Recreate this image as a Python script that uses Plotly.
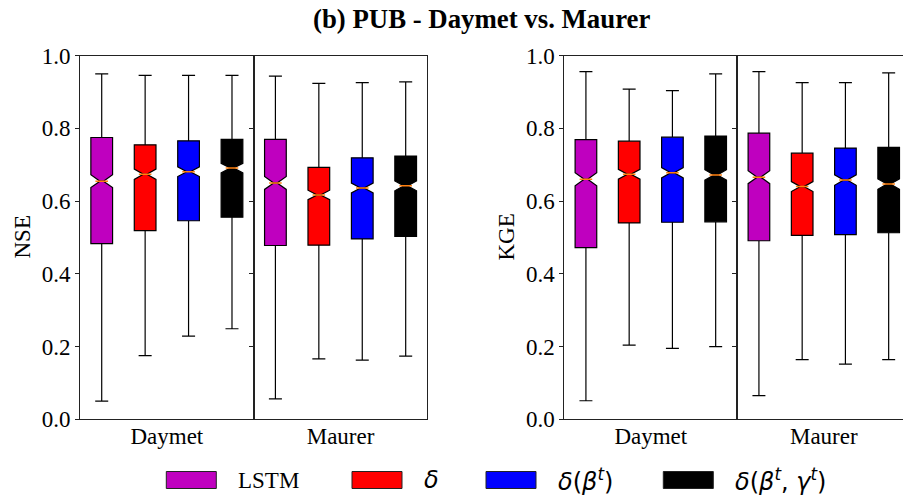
import numpy as np
import plotly.graph_objects as go

# ---------------- data ----------------
models = ["LSTM", "δ", "δ(βt)", "δ(βt, γt)"]
model_labels = ["LSTM", "<i>δ</i>", "<i>δ</i>(<i>β</i><sup><i>t</i></sup>)",
                "<i>δ</i>(<i>β</i><sup><i>t</i></sup>, <i>γ</i><sup><i>t</i></sup>)"]
model_colors = ["#bf00bf", "#ff0000", "#0000ff", "#000000"]
forcings = ["Daymet", "Maurer"]
n_basins = 671

# NSE statistics, rows = model, cols = forcing (Daymet, Maurer)
nse_low = [[0.050, 0.056], [0.175, 0.166], [0.229, 0.163], [0.249, 0.174]]
nse_q1 = [[0.483, 0.478], [0.519, 0.479], [0.546, 0.496], [0.556, 0.503]]
nse_med = [[0.655, 0.650], [0.674, 0.617], [0.681, 0.636], [0.691, 0.642]]
nse_q3 = [[0.775, 0.770], [0.755, 0.693], [0.766, 0.719], [0.770, 0.724]]
nse_high = [[0.950, 0.944], [0.946, 0.924], [0.946, 0.926], [0.946, 0.928]]

# KGE statistics
kge_low = [[0.051, 0.065], [0.204, 0.164], [0.195, 0.152], [0.200, 0.164]]
kge_q1 = [[0.472, 0.491], [0.540, 0.506], [0.542, 0.508], [0.543, 0.513]]
kge_med = [[0.660, 0.666], [0.674, 0.640], [0.678, 0.658], [0.672, 0.647]]
kge_q3 = [[0.769, 0.787], [0.765, 0.732], [0.776, 0.746], [0.779, 0.748]]
kge_high = [[0.956, 0.956], [0.908, 0.926], [0.904, 0.926], [0.950, 0.953]]

y_ticks = [0.0, 0.2, 0.4, 0.6, 0.8, 1.0]

# ---------------- layout geometry ----------------
W, H = 903, 496
FONT = "Liberation Serif"
MATH_FONT = "DejaVu Sans"
box_width = 0.5
notch_w = 0.42
y_dom = [1 - 419.3 / H, 1 - 55.7 / H]

# panel pixel extents: left edge, divider, right edge
panels = [
    dict(left=80.0, mid=253.7, right=426.7, stats=(nse_low, nse_q1, nse_med, nse_q3, nse_high), ylab="NSE", ylab_x=22),
    dict(left=564.3, mid=737.3, right=910.3, stats=(kge_low, kge_q1, kge_med, kge_q3, kge_high), ylab="KGE", ylab_x=506),
]

fig = go.Figure()
layout = dict(
    width=W, height=H,
    margin=dict(l=0, r=0, t=0, b=0, autoexpand=False),
    paper_bgcolor="white", plot_bgcolor="white",
    showlegend=False, boxmode="overlay",
    font=dict(family=FONT, size=23, color="black"),
    annotations=[], shapes=[],
)

axis_idx = 0
for p_i, pnl in enumerate(panels):
    low, q1, med, q3, high = pnl["stats"]
    unit_px = (pnl["mid"] - pnl["left"]) / 4.0
    for f_i, forcing in enumerate(forcings):
        axis_idx += 1
        xa = "x" if axis_idx == 1 else f"x{axis_idx}"
        ya = "y" if axis_idx == 1 else f"y{axis_idx}"
        x0_px = pnl["left"] if f_i == 0 else pnl["mid"]
        x1_px = pnl["mid"] if f_i == 0 else min(pnl["right"], W)
        r0 = 0.5 + 4 * f_i
        r1 = r0 + (x1_px - x0_px) / unit_px
        clipped = pnl["right"] > W and f_i == 1

        for m_i in range(len(models)):
            pos = 4 * f_i + m_i + 1
            iqr = q3[m_i][f_i] - q1[m_i][f_i]
            fig.add_trace(go.Box(
                x=[pos],
                q1=[q1[m_i][f_i]], median=[med[m_i][f_i]], q3=[q3[m_i][f_i]],
                lowerfence=[low[m_i][f_i]], upperfence=[high[m_i][f_i]],
                notched=True, notchwidth=notch_w,
                notchspan=[1.57 * iqr / np.sqrt(n_basins)],
                width=box_width, whiskerwidth=0.6,
                fillcolor=model_colors[m_i],
                line=dict(color="black", width=1.2),
                boxpoints=False, hoverinfo="skip",
                xaxis=xa, yaxis=ya, name=models[m_i],
            ))
            half = box_width / 2 * (1 - notch_w)
            fig.add_trace(go.Scatter(
                x=[pos - half, pos + half], y=[med[m_i][f_i]] * 2,
                mode="lines", line=dict(color="#ff7f0e", width=1.5),
                hoverinfo="skip", xaxis=xa, yaxis=ya,
            ))

        xkey = "xaxis" if axis_idx == 1 else f"xaxis{axis_idx}"
        ykey = "yaxis" if axis_idx == 1 else f"yaxis{axis_idx}"
        layout[xkey] = dict(
            domain=[x0_px / W, x1_px / W], range=[r0, r1], anchor=ya,
            showline=True, mirror=True, linecolor="#222", linewidth=1,
            showgrid=False, zeroline=False, ticks="", ticklen=0,
            ticklabelstandoff=-4,
            tickvals=[2.5 + 4 * f_i], ticktext=[forcing], automargin=False,
            tickfont=dict(family=FONT, size=23), fixedrange=True,
        )
        layout[ykey] = dict(
            domain=y_dom, range=[0, 1.0], anchor=xa,
            showline=True, mirror=not clipped, linecolor="#222", linewidth=1,
            showgrid=False, zeroline=False, automargin=False,
            ticks="outside", ticklen=4, tickwidth=1, tickcolor="#222",
            tickvals=y_ticks, ticktext=[f"{v:.1f}" for v in y_ticks],
            showticklabels=(f_i == 0),
            tickfont=dict(family=FONT, size=23), fixedrange=True,
        )

    layout["annotations"].append(dict(
        text=pnl["ylab"], textangle=-90, xref="paper", yref="paper",
        x=pnl["ylab_x"] / W, y=sum(y_dom) / 2, showarrow=False,
        xanchor="center", yanchor="middle", font=dict(family=FONT, size=23),
    ))

# title
layout["annotations"].append(dict(
    text="<b>(b) PUB - Daymet vs. Maurer</b>", xref="paper", yref="paper",
    x=481 / W, y=1 - 19 / H, showarrow=False, xanchor="center", yanchor="middle",
    font=dict(family=FONT, size=26.8),
))

# legend row
legend_swatch_x = [166.3, 352.0, 486.0, 663.3]
legend_y = 480
swatch_w, swatch_h = 50, 17
for m_i, lab in enumerate(model_labels):
    sx = legend_swatch_x[m_i]
    layout["shapes"].append(dict(
        type="rect", xref="paper", yref="paper",
        x0=sx / W, x1=(sx + swatch_w) / W,
        y0=1 - (legend_y + swatch_h / 2) / H, y1=1 - (legend_y - swatch_h / 2) / H,
        fillcolor=model_colors[m_i], line=dict(color="#222", width=1),
    ))
    layout["annotations"].append(dict(
        text=lab, xref="paper", yref="paper",
        x=(sx + swatch_w + 20) / W, y=1 - legend_y / H, showarrow=False,
        xanchor="left", yanchor="middle",
        font=dict(family=FONT if m_i == 0 else MATH_FONT, size=23 if m_i == 0 else 24),
    ))

fig.update_layout(**layout)
fig.write_html("out.html")
